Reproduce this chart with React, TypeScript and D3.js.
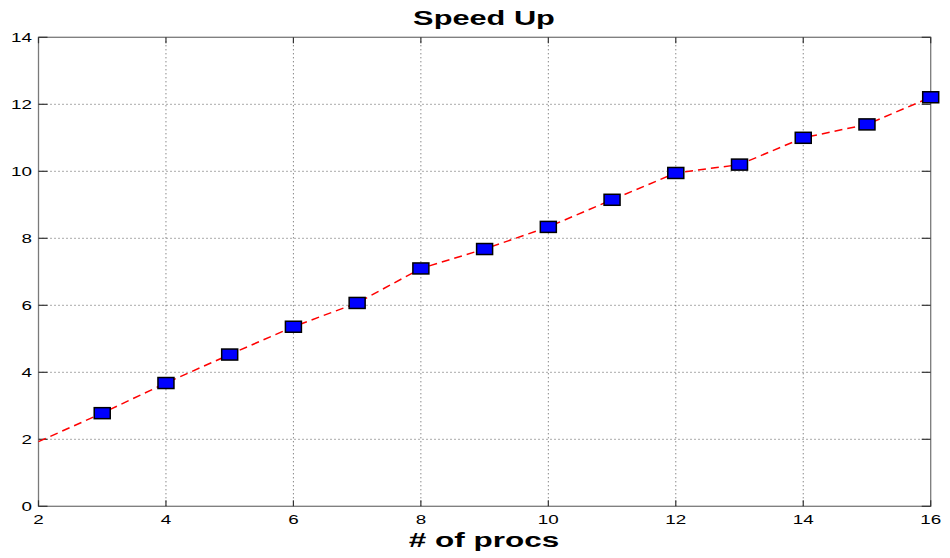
import React from "react";
import * as d3 from "d3";

const procs = [2, 3, 4, 5, 6, 7, 8, 9, 10, 11, 12, 13, 14, 15, 16];
const speedup = [1.93, 2.78, 3.68, 4.53, 5.36, 6.07, 7.1, 7.68, 8.34, 9.15, 9.95, 10.2, 11.0, 11.4, 12.21];
const markerProcs = [3, 4, 5, 6, 7, 8, 9, 10, 11, 12, 13, 14, 15, 16];
const xTicks = [2, 4, 6, 8, 10, 12, 14, 16];
const yTicks = [0, 2, 4, 6, 8, 10, 12, 14];
const title = "Speed Up";
const xLabel = "# of procs";

const W = 950;
const H = 558;
const L = 38.5, R = 930.7, T = 37.3, B = 506.3;
const SX = 1.45;
const font = "'Liberation Sans', Arial, Helvetica, sans-serif";

function SText({ x, y, size, bold, anchor, sx, children }: any) {
  return (
    <text
      transform={`translate(${x},${y}) scale(${sx || SX},1)`}
      fontFamily={font}
      fontSize={size}
      fontWeight={bold ? "bold" : "normal"}
      textAnchor={anchor}
      fill="#000"
    >
      {children}
    </text>
  );
}

export default function App() {
  const x = d3.scaleLinear().domain([2, 16]).range([L, R]);
  const y = d3.scaleLinear().domain([0, 14]).range([B, T]);
  const pts = procs.map((p, i) => [x(p), y(speedup[i])] as [number, number]);
  const line = d3.line()(pts) || "";
  const axisColor = "#7a7a7a";
  return (
    <svg width={W} height={H} style={{ position: "absolute", left: 0, top: 0, background: "#fff" }}>
      <rect x={0} y={0} width={W} height={H} fill="#fff" />
      {xTicks.slice(1, -1).map((t) => (
        <line key={"gx" + t} x1={x(t)} x2={x(t)} y1={T} y2={B} stroke="#555" strokeWidth={1} strokeDasharray="1,3" />
      ))}
      {yTicks.slice(1, -1).map((t) => (
        <line key={"gy" + t} x1={L} x2={R} y1={y(t)} y2={y(t)} stroke="#555" strokeWidth={1} strokeDasharray="1,3" />
      ))}
      <rect x={L} y={T} width={R - L} height={B - T} fill="none" stroke={axisColor} strokeWidth={1.3} />
      {xTicks.map((t) => (
        <g key={"tx" + t}>
          <line x1={x(t)} x2={x(t)} y1={B} y2={B - 6} stroke="#333" strokeWidth={1.2} />
          <line x1={x(t)} x2={x(t)} y1={T} y2={T + 6} stroke="#333" strokeWidth={1.2} />
          <SText x={x(t)} y={524} size={13} anchor="middle">{t}</SText>
        </g>
      ))}
      {yTicks.map((t) => (
        <g key={"ty" + t}>
          <line x1={L} x2={L + 9} y1={y(t)} y2={y(t)} stroke="#333" strokeWidth={1.2} />
          <line x1={R} x2={R - 9} y1={y(t)} y2={y(t)} stroke="#333" strokeWidth={1.2} />
          <SText x={32} y={y(t) + 4.5} size={13} anchor="end">{t}</SText>
        </g>
      ))}
      <path d={line} fill="none" stroke="#ff0000" strokeWidth={1.5} strokeDasharray="8,5" />
      {markerProcs.map((p) => {
        const v = speedup[procs.indexOf(p)];
        return (
          <rect key={"m" + p} x={x(p) - 8} y={y(v) - 5.5} width={16} height={11} fill="#0000ff" stroke="#000" strokeWidth={1.5} />
        );
      })}
      <SText x={484} y={25} size={20.5} bold anchor="middle" sx={1.5}>{title}</SText>
      <SText x={484} y={547} size={21} bold anchor="middle" sx={1.5}>{xLabel}</SText>
    </svg>
  );
}
